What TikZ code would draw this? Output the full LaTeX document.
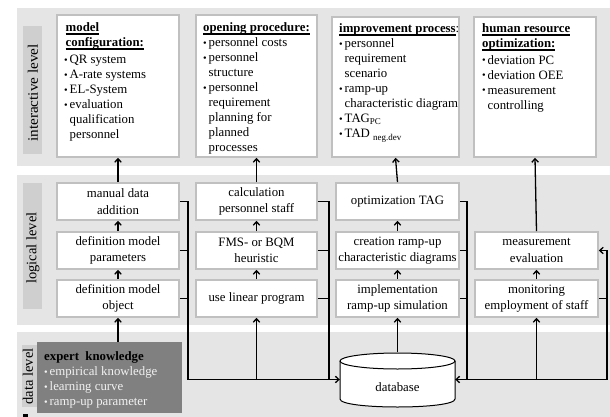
\documentclass[tikz,border=0pt]{standalone}
\usepackage{fontspec}
\usepackage{graphicx}
\setmainfont{Liberation Serif}
\usetikzlibrary{arrows.meta}
\definecolor{panel}{RGB}{229,229,229}
\definecolor{stripc}{RGB}{207,207,207}
\definecolor{boxline}{RGB}{192,192,192}
\definecolor{expertc}{RGB}{128,128,128}
\definecolor{expertxt}{RGB}{242,242,242}
\newcommand\hdr[1]{\leavevmode\setbox0\hbox{\bfseries #1}\rlap{\rule[-2.6pt]{\wd0}{1.6pt}}\box0}
\newcommand\bul{\leavevmode\makebox[5.5pt][l]{\raisebox{0.12ex}{\scalebox{0.8}{\textbullet}}}}
\newcommand\ind{\leavevmode\hspace*{5.5pt}}
\begin{document}
\begin{tikzpicture}[x=1pt,y=-1pt,
  txt/.style={anchor=base west,inner sep=0,font=\fontsize{12.8}{15}\selectfont},
  topbox/.style={draw=boxline,line width=1.6pt,fill=white,inner sep=0},
  lbox/.style={draw=boxline,line width=1.6pt,fill=white,inner sep=0,align=center,
    font=\fontsize{12.8}{16.5}\selectfont,minimum height=37pt},
  lvl/.style={rotate=90,inner sep=0,font=\fontsize{14.5}{16}\selectfont},
  ln/.style={line width=1.3pt},
  arr/.style={line width=1.3pt,-{Straight Barb[length=3.5pt,width=6.5pt]}}
]
\useasboundingbox (0,0) rectangle (610,417);
% panels
\fill[panel] (17,8) rectangle (610,166);
\fill[panel] (17,175) rectangle (610,325);
\fill[panel] (17,332) rectangle (610,417);
% strips
\fill[stripc] (23,26) rectangle (42,154);
\fill[stripc] (23,183) rectangle (42,309);
\fill[stripc] (22,345) rectangle (42,407);
\fill[black] (23,414) rectangle (28,417);
\node[lvl,xscale=1.05] (lv1) at (33,93) {interactive level};
\node[lvl] (lv2) at (33,248) {logical level};
\node[lvl] (lv3) at (28,376.5) {data level};

% top boxes
\node[topbox,minimum width=122pt,minimum height=142pt] (t1) at (118,86) {};
\node[topbox,minimum width=121pt,minimum height=142pt] (t2) at (256.5,86) {};
\node[topbox,minimum width=127pt,minimum height=140pt] (t3) at (395.5,87) {};
\node[topbox,minimum width=122pt,minimum height=140pt] (t4) at (535,87) {};

\node[txt] (t1x) at (64,32) {\parbox[t]{112pt}{\hspace*{1.5pt}\hdr{model}\\\hspace*{1.5pt}\hdr{configuration:}\\[1.8pt]\bul QR system\\\bul A-rate systems\\\bul EL-System\\\bul evaluation\\\ind qualification\\\ind personnel}};
\node[txt] (t2x) at (203,32) {\parbox[t]{112pt}{\hdr{opening procedure:}\\\bul personnel costs\\\bul personnel\\\ind structure\\\bul personnel\\\ind requirement\\\ind planning for\\\ind planned\\\ind processes}};
\node[txt] (t3x) at (339,33) {\parbox[t]{120pt}{\hdr{improvement process}:\\\bul personnel\\\ind requirement\\\ind scenario\\\bul ramp-up\\\ind characteristic diagram\\\bul TAG\textsubscript{PC}\\\bul TAD \textsubscript{neg.dev}}};
\node[txt] (t4x) at (482,33) {\parbox[t]{112pt}{\hdr{human resource}\\\hdr{optimization:}\\[1.5pt]\bul deviation PC\\\bul deviation OEE\\\bul measurement\\\ind controlling}};

% logical boxes
\node[lbox,minimum width=122pt] (m1) at (118,201.5) {manual data\\addition};
\node[lbox,minimum width=122pt] (m2) at (118,250.5) {definition model\\parameters};
\node[lbox,minimum width=122pt] (m3) at (118,298.5) {definition model\\object};
\node[lbox,minimum width=121pt] (c1) at (256.5,201.5) {calculation\\personnel staff};
\node[lbox,minimum width=121pt] (c2) at (256.5,250.5) {FMS- or BQM\\heuristic};
\node[lbox,minimum width=121pt] (c3) at (256.5,298.5) {use linear program};
\node[lbox,minimum width=123pt] (o1) at (397.5,201.5) {optimization TAG};
\node[lbox,minimum width=123pt] (o2) at (397.5,250.5) {creation ramp-up\\characteristic diagrams};
\node[lbox,minimum width=123pt] (o3) at (397.5,298.5) {implementation\\ramp-up simulation};
\node[lbox,minimum width=123pt] (me) at (536.5,250.5) {measurement\\evaluation};
\node[lbox,minimum width=123pt] (mo) at (536.5,298.5) {monitoring\\employment of staff};

% expert knowledge
\node[fill=expertc,inner sep=0,minimum width=145pt,minimum height=71pt] (ek) at (109.5,377.5) {};
\node[txt,text=expertxt] (ekx) at (44,352) {\parbox[t]{135pt}{{\color{black}\bfseries expert\ \ knowledge}\\\bul empirical knowledge\\\bul learning curve\\\bul ramp-up parameter}};

% database
\node[inner sep=0,minimum width=115pt,minimum height=54pt] (db) at (397.5,379.5) {};
\draw[line width=1pt,fill=white] (340,361) -- (340,399) .. controls (340,409.67) and (455,409.67) .. (455,399) -- (455,361);
\draw[line width=1pt,fill=white] (397.5,361) ellipse [x radius=57.5, y radius=8];
\node[font=\fontsize{12.8}{15}\selectfont] (dbl) at (397.5,387) {database};

% arrows: logical -> interactive
\draw[arr] (m1.north) -- (t1.south);
\draw[arr] (c1.north) -- (t2.south);
\draw[arr] (o1.north) -- (t3.south);
\draw[arr] (me.north) -- (t4.south);
% inside columns
\draw[arr] (m3.north) -- (m2.south);
\draw[arr] (m2.north) -- (m1.south);
\draw[arr] (c3.north) -- (c2.south);
\draw[arr] (c2.north) -- (c1.south);
\draw[arr] (o3.north) -- (o2.south);
\draw[arr] (o2.north) -- (o1.south);
\draw[arr] (mo.north) -- (me.south);
% expert -> model object
\draw[arr] (m3.south |- ek.north) -- (m3.south);
% database -> simulation
\draw[arr] (db.north) -- (o3.south);

% buses
\coordinate (b1) at (188,379.5);
\coordinate (b2) at (329,379.5);
\coordinate (b3) at (467,379.5);
\coordinate (fb) at (607,379.5);
\draw[ln] (m1.east) -| (b1);
\draw[ln] (m2.east) -- (m2.east -| b1);
\draw[ln] (m3.east) -- (m3.east -| b1);
\draw[ln] (c1.east) -| (b2);
\draw[ln] (c2.east) -- (c2.east -| b2);
\draw[ln] (c3.east) -- (c3.east -| b2);
\draw[ln] (o1.east) -| (b3);
\draw[ln] (o2.east) -- (o2.east -| b3);
\draw[ln] (o3.east) -- (o3.east -| b3);
\draw[arr] (b1) -- (db.west);
\draw[arr] (c3.south |- b1) -- (c3.south);
\draw[arr] (fb) -- (db.east);
\draw[arr] (fb) |- (me.east);
\draw[ln] (mo.east) -- (mo.east -| fb);
\draw[arr] (mo.south |- fb) -- (mo.south);
\end{tikzpicture}
\end{document}
